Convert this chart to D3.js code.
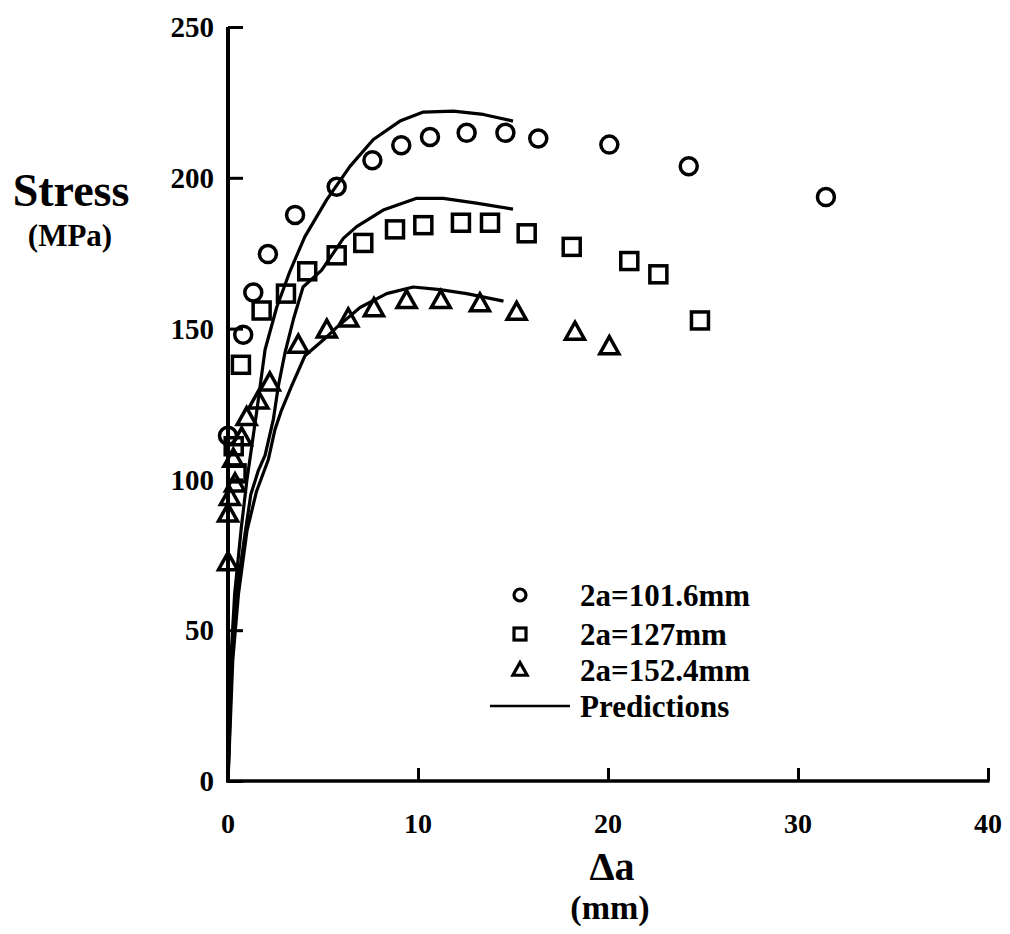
<!DOCTYPE html>
<html>
<head>
<meta charset="utf-8">
<script src="https://cdn.jsdelivr.net/npm/d3@7"></script>
<style>
  html, body { margin: 0; padding: 0; background: #fff; }
  svg { display: block; }
  text { font-family: "Liberation Serif", "Times New Roman", serif; font-weight: bold; fill: #000; }
</style>
</head>
<body>
<svg id="chart" width="1010" height="934"></svg>
<script>
// Crack extension (mm) vs. applied stress (MPa) for three crack lengths
const xTicks = [0, 10, 20, 30, 40];
const yTicks = [0, 50, 100, 150, 200, 250];

// Measured points, 2a = 101.6 mm
const circleX = [0.0, 0.8, 1.33, 2.1, 3.53, 5.72, 7.6, 9.12, 10.63, 12.56, 14.6, 16.33, 20.07, 24.25, 31.47];
const circleY = [114.5, 148, 162, 174.7, 187.7, 197, 205.8, 210.8, 213.5, 214.9, 214.9, 213, 211, 203.8, 193.6];

// Measured points, 2a = 127 mm
const squareX = [0.3, 0.45, 0.68, 1.77, 3.05, 4.17, 5.72, 7.12, 8.79, 10.28, 12.26, 13.79, 15.72, 18.09, 21.12, 22.65, 24.84];
const squareY = [111, 102, 138, 156, 161.6, 169, 174.3, 178.4, 182.9, 184.3, 185.1, 185.1, 181.6, 177.1, 172.4, 168, 152.7];

// Measured points, 2a = 152.4 mm
const triX = [0.0, 0.0, 0.1, 0.37, 0.28, 0.72, 0.98, 1.6, 2.2, 3.7, 5.2, 6.33, 7.68, 9.4, 11.2, 13.26, 15.19, 18.26, 20.07];
const triY = [72.4, 88.5, 94, 98.5, 106.7, 113.8, 120.5, 126, 132, 144.5, 149.5, 153.2, 156.6, 159.3, 159.3, 158.2, 155.4, 148.8, 144];

// Predicted curves
const pred1X = [0, 0.15, 0.35, 0.7, 1.0, 1.5, 1.95, 2.56, 3.26, 4.04, 5.19, 6.42, 7.65, 9.05, 10.28, 11.86, 13.44, 15.0];
const pred1Y = [0, 40, 62, 84, 100, 122, 143, 157, 169, 180.4, 192.7, 203.8, 212.7, 218.8, 221.8, 222.1, 221, 218.8];
const pred2X = [0, 0.2, 0.45, 0.85, 1.2, 1.6, 1.95, 2.39, 2.65, 3.0, 3.44, 3.95, 4.92, 6.07, 6.77, 8.17, 9.93, 11.33, 13.07, 15.0];
const pred2Y = [0, 40, 62, 80, 95, 103, 108, 120, 131, 142, 153, 163.8, 169.3, 179.9, 183.8, 189.3, 193.2, 193.2, 191.6, 189.6];
const pred3X = [0, 0.25, 0.55, 1.0, 1.5, 2.12, 2.47, 2.82, 3.35, 4.05, 5.1, 5.72, 6.95, 8.35, 9.75, 11.16, 12.56, 14.5];
const pred3Y = [0, 40, 62, 83, 96, 106.5, 116.5, 123, 131, 141, 146.7, 150.4, 157, 161.6, 163.8, 162.9, 161.6, 159.1];

const legendLabels = ["2a=101.6mm", "2a=127mm", "2a=152.4mm", "Predictions"];

const svg = d3.select("#chart");
const x = d3.scaleLinear().domain([0, 40]).range([228, 988]);
const y = d3.scaleLinear().domain([0, 250]).range([781, 27]);

const zip = (xs, ys) => xs.map((v, i) => [v, ys[i]]);

// Axes: y axis on the left, x axis along the bottom, ticks pointing inward
const yAxis = d3.axisRight(y).tickValues(yTicks).tickSize(15).tickFormat("");
const gy = svg.append("g").attr("transform", `translate(${x(0)},0)`).call(yAxis);
gy.select(".domain").remove();
gy.selectAll(".tick line").attr("stroke", "#000").attr("stroke-width", 3);

const xAxis = d3.axisTop(x).tickValues(xTicks).tickSize(13).tickFormat("");
const gx = svg.append("g").attr("transform", `translate(0,${y(0)})`).call(xAxis);
gx.select(".domain").remove();
gx.selectAll(".tick line").attr("stroke", "#000").attr("stroke-width", 3);

svg.append("line").attr("x1", x(0)).attr("x2", x(0)).attr("y1", y(250)).attr("y2", y(0))
  .attr("stroke", "#000").attr("stroke-width", 4);
svg.append("line").attr("x1", x(0) - 2).attr("x2", x(40) + 1.5).attr("y1", y(0)).attr("y2", y(0))
  .attr("stroke", "#000").attr("stroke-width", 3.5);

// Tick labels
svg.append("g").selectAll("text").data(yTicks).join("text")
  .attr("x", 214).attr("y", d => y(d)).attr("dy", "0.35em")
  .attr("text-anchor", "end").attr("font-size", 29).text(d => d);
svg.append("g").selectAll("text").data(xTicks).join("text")
  .attr("x", d => x(d)).attr("y", 823).attr("dy", "0.35em")
  .attr("text-anchor", "middle").attr("font-size", 28).text(d => d);

// Axis titles
svg.append("text").attr("x", 71).attr("y", 190).attr("dy", "0.35em")
  .attr("text-anchor", "middle").attr("font-size", 46).text("Stress");
svg.append("text").attr("x", 70).attr("y", 235).attr("dy", "0.35em")
  .attr("text-anchor", "middle").attr("font-size", 31).text("(MPa)");
svg.append("text").attr("x", 612).attr("y", 866).attr("dy", "0.35em")
  .attr("text-anchor", "middle").attr("font-size", 40).text("Δa");
svg.append("text").attr("x", 610).attr("y", 907).attr("dy", "0.35em")
  .attr("text-anchor", "middle").attr("font-size", 34).text("(mm)");

// Prediction curves
const line = d3.line().x(d => x(d[0])).y(d => y(d[1])).curve(d3.curveLinear);
[zip(pred1X, pred1Y), zip(pred2X, pred2Y), zip(pred3X, pred3Y)].forEach(p => {
  svg.append("path").datum(p).attr("d", line)
    .attr("fill", "none").attr("stroke", "#000").attr("stroke-width", 3.2)
    .attr("stroke-linejoin", "round");
});

// Markers
const mk = { fill: "none", stroke: "#000", sw: 3.5 };
svg.append("g").selectAll("circle").data(zip(circleX, circleY)).join("circle")
  .attr("cx", d => x(d[0])).attr("cy", d => y(d[1])).attr("r", 8.5)
  .attr("fill", mk.fill).attr("stroke", mk.stroke).attr("stroke-width", mk.sw);
svg.append("g").selectAll("rect").data(zip(squareX, squareY)).join("rect")
  .attr("x", d => x(d[0]) - 8.5).attr("y", d => y(d[1]) - 8.5).attr("width", 17).attr("height", 17)
  .attr("fill", mk.fill).attr("stroke", mk.stroke).attr("stroke-width", mk.sw);
const tri = (cx, cy, s) => `M${cx},${cy - s}L${cx + s * 0.95},${cy + s * 0.7}L${cx - s * 0.95},${cy + s * 0.7}Z`;
svg.append("g").selectAll("path").data(zip(triX, triY)).join("path")
  .attr("d", d => tri(x(d[0]), y(d[1]), 10))
  .attr("fill", mk.fill).attr("stroke", mk.stroke).attr("stroke-width", mk.sw)
  .attr("stroke-linejoin", "miter");

// Legend
const lg = svg.append("g");
const rows = [595, 634, 670, 706];
lg.append("circle").attr("cx", 520).attr("cy", rows[0]).attr("r", 6)
  .attr("fill", "none").attr("stroke", "#000").attr("stroke-width", 3.2);
lg.append("rect").attr("x", 514).attr("y", rows[1] - 6).attr("width", 12).attr("height", 12)
  .attr("fill", "none").attr("stroke", "#000").attr("stroke-width", 3.2);
lg.append("path").attr("d", tri(520, rows[2], 7.5))
  .attr("fill", "none").attr("stroke", "#000").attr("stroke-width", 3.2);
lg.append("line").attr("x1", 490).attr("x2", 570).attr("y1", rows[3]).attr("y2", rows[3])
  .attr("stroke", "#000").attr("stroke-width", 2.5);
lg.selectAll("text").data(legendLabels).join("text")
  .attr("x", 580).attr("y", (d, i) => rows[i]).attr("dy", "0.35em")
  .attr("font-size", 31).text(d => d);
</script>
</body>
</html>
